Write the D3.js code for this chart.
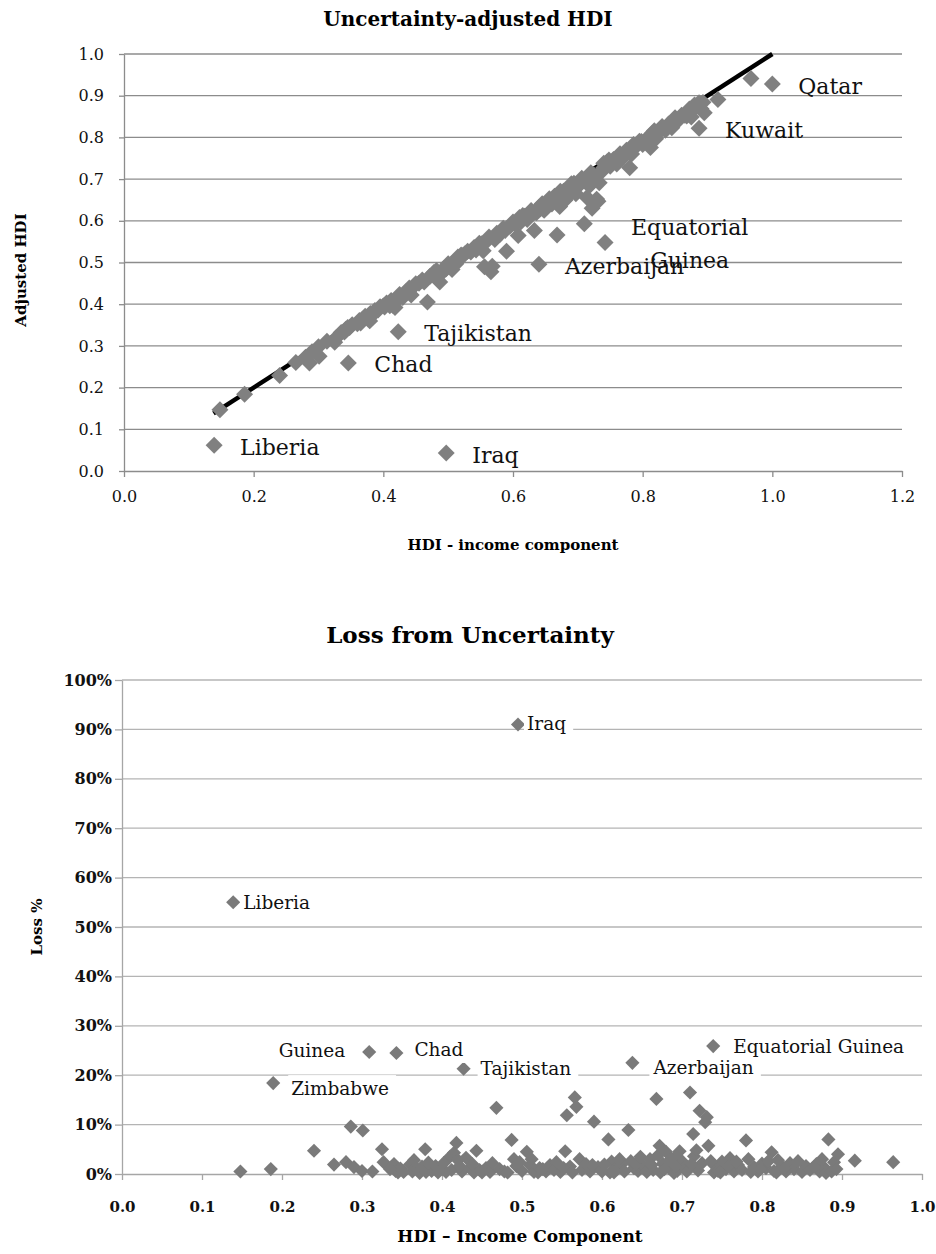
<!DOCTYPE html>
<html>
<head>
<meta charset="utf-8">
<script src="https://cdn.jsdelivr.net/npm/d3@7"></script>
<style>
  body { margin: 0; background: #fff; }
  svg { display: block; font-family: "DejaVu Serif", serif; }
</style>
</head>
<body>
<div id="chart"></div>
<script>
// ---- Upper panel: adjusted HDI vs income component ----
const topTitle = "Uncertainty-adjusted HDI";
const topXTitle = "HDI - income component";
const topYTitle = "Adjusted HDI";
const topXTicks = [0, 0.2, 0.4, 0.6, 0.8, 1.0, 1.2];
const topYTicks = [0, 0.1, 0.2, 0.3, 0.4, 0.5, 0.6, 0.7, 0.8, 0.9, 1.0];

const topIncome = [0.148, 0.186, 0.24, 0.265, 0.28, 0.286, 0.301, 0.29, 0.30, 0.313, 0.325, 0.327, 0.34, 0.342, 0.345,
	0.348, 0.36, 0.363, 0.368, 0.372, 0.379, 0.38, 0.387, 0.392, 0.40, 0.405, 0.41, 0.415, 0.418, 0.42, 0.425, 0.43,
	0.435, 0.44, 0.443, 0.447, 0.455, 0.46, 0.468, 0.472, 0.478, 0.487, 0.49, 0.493, 0.50, 0.506, 0.51, 0.515, 0.52,
	0.522, 0.53, 0.535, 0.54, 0.548, 0.554, 0.556, 0.56, 0.566, 0.568, 0.572, 0.575, 0.58, 0.585, 0.59, 0.595, 0.60,
	0.608, 0.61, 0.612, 0.618, 0.625, 0.628, 0.633, 0.636, 0.64, 0.645, 0.652, 0.66, 0.664, 0.668, 0.67, 0.672, 0.676,
	0.68, 0.684, 0.69, 0.69, 0.694, 0.70, 0.703, 0.71, 0.714, 0.715, 0.72, 0.722, 0.725, 0.729, 0.731, 0.733, 0.74,
	0.74, 0.745, 0.75, 0.755, 0.76, 0.765, 0.77, 0.775, 0.78, 0.783, 0.79, 0.795, 0.80, 0.805, 0.812, 0.815, 0.82,
	0.825, 0.83, 0.835, 0.84, 0.85, 0.855, 0.86, 0.868, 0.872, 0.878, 0.88, 0.887, 0.89, 0.895, 0.916, 0.967,
	0.335, 0.352, 0.365, 0.375, 0.383, 0.395, 0.402, 0.412, 0.422, 0.438, 0.45, 0.463, 0.482, 0.497, 0.512, 0.526,
	0.543, 0.552, 0.563, 0.588, 0.603, 0.615, 0.622, 0.642, 0.648, 0.656, 0.662, 0.673, 0.678, 0.686, 0.692, 0.697,
	0.706, 0.712, 0.718, 0.736, 0.748, 0.758, 0.768, 0.786, 0.798, 0.808, 0.818, 0.828, 0.845, 0.865, 0.875, 0.893];
const topAdjusted = [0.147, 0.184, 0.229, 0.26, 0.273, 0.259, 0.275, 0.286, 0.298, 0.311, 0.309, 0.319, 0.333, 0.34, 0.344,
	0.344, 0.353, 0.361, 0.364, 0.371, 0.36, 0.378, 0.385, 0.386, 0.396, 0.403, 0.396, 0.397, 0.392, 0.408, 0.423, 0.416,
	0.43, 0.439, 0.422, 0.443, 0.45, 0.458, 0.405, 0.467, 0.476, 0.453, 0.475, 0.485, 0.497, 0.483, 0.501, 0.513, 0.518,
	0.516, 0.527, 0.525, 0.536, 0.546, 0.528, 0.49, 0.552, 0.478, 0.491, 0.555, 0.57, 0.568, 0.582, 0.527, 0.587, 0.597,
	0.565, 0.608, 0.597, 0.611, 0.613, 0.625, 0.577, 0.619, 0.632, 0.641, 0.642, 0.64, 0.659, 0.566, 0.645, 0.634, 0.662,
	0.649, 0.676, 0.667, 0.689, 0.69, 0.682, 0.693, 0.593, 0.656, 0.689, 0.715, 0.63, 0.709, 0.652, 0.647, 0.691, 0.727,
	0.738, 0.741, 0.731, 0.747, 0.736, 0.761, 0.756, 0.769, 0.727, 0.76, 0.779, 0.791, 0.783, 0.795, 0.776, 0.81, 0.797,
	0.813, 0.826, 0.817, 0.832, 0.847, 0.841, 0.853, 0.851, 0.868, 0.867, 0.878, 0.883, 0.869, 0.859, 0.891, 0.941,
	0.332, 0.351, 0.355, 0.369, 0.374, 0.394, 0.393, 0.409, 0.415, 0.429, 0.449, 0.453, 0.481, 0.485, 0.497, 0.521,
	0.53, 0.545, 0.561, 0.577, 0.592, 0.613, 0.603, 0.629, 0.625, 0.653, 0.65, 0.671, 0.671, 0.665, 0.681, 0.665,
	0.702, 0.698, 0.684, 0.717, 0.746, 0.746, 0.749, 0.783, 0.79, 0.787, 0.816, 0.818, 0.823, 0.853, 0.849, 0.884];

const topLabelNames = ["Qatar", "Kuwait", "Equatorial\nGuinea", "Azerbaijan", "Tajikistan", "Chad", "Liberia", "Iraq"];
const topLabelIncome = [1.0, 0.887, 0.742, 0.64, 0.423, 0.346, 0.139, 0.497];
const topLabelAdjusted = [0.928, 0.822, 0.548, 0.496, 0.334, 0.259, 0.062, 0.043];

// trend line (y = x) end points
const trendIncome = [0.138, 1.0];
const trendAdjusted = [0.138, 1.0];

// ---- Lower panel: loss from uncertainty ----
const bottomTitle = "Loss from Uncertainty";
const bottomXTitle = "HDI \u2013 Income Component";
const bottomYTitle = "Loss %";
const bottomXTicks = [0, 0.1, 0.2, 0.3, 0.4, 0.5, 0.6, 0.7, 0.8, 0.9, 1.0];
const bottomYTicks = [0, 10, 20, 30, 40, 50, 60, 70, 80, 90, 100];

const bottomIncome = [0.148, 0.186, 0.24, 0.265, 0.28, 0.286, 0.301, 0.29, 0.30, 0.313, 0.325, 0.327, 0.34, 0.342, 0.345,
	0.348, 0.36, 0.363, 0.368, 0.372, 0.379, 0.38, 0.387, 0.392, 0.40, 0.405, 0.41, 0.415, 0.418, 0.42, 0.425, 0.43,
	0.435, 0.44, 0.443, 0.447, 0.455, 0.46, 0.468, 0.472, 0.478, 0.487, 0.49, 0.493, 0.50, 0.506, 0.51, 0.515, 0.52,
	0.522, 0.53, 0.535, 0.54, 0.548, 0.554, 0.556, 0.56, 0.566, 0.568, 0.572, 0.575, 0.58, 0.585, 0.59, 0.595, 0.60,
	0.608, 0.61, 0.612, 0.618, 0.625, 0.628, 0.633, 0.636, 0.64, 0.645, 0.652, 0.66, 0.664, 0.668, 0.67, 0.672, 0.676,
	0.68, 0.684, 0.69, 0.69, 0.694, 0.70, 0.703, 0.71, 0.714, 0.715, 0.72, 0.722, 0.725, 0.729, 0.731, 0.733, 0.74,
	0.74, 0.745, 0.75, 0.755, 0.76, 0.765, 0.77, 0.775, 0.78, 0.783, 0.79, 0.795, 0.80, 0.805, 0.812, 0.815, 0.82,
	0.825, 0.83, 0.835, 0.84, 0.85, 0.855, 0.86, 0.868, 0.872, 0.878, 0.88, 0.883, 0.887, 0.89, 0.895, 0.916, 0.964,
	0.335, 0.352, 0.365, 0.375, 0.383, 0.395, 0.402, 0.412, 0.422, 0.438, 0.45, 0.463, 0.482, 0.497, 0.512, 0.526,
	0.543, 0.552, 0.563, 0.588, 0.603, 0.615, 0.622, 0.642, 0.648, 0.656, 0.662, 0.673, 0.678, 0.686, 0.692, 0.697,
	0.706, 0.712, 0.718, 0.736, 0.748, 0.758, 0.768, 0.786, 0.798, 0.808, 0.818, 0.828, 0.845, 0.865, 0.875, 0.893];
const bottomLoss = [0.5, 1.0, 4.7, 1.9, 2.4, 9.6, 8.8, 1.4, 0.6, 0.5, 5.0, 2.4, 2.0, 0.6, 0.3,
	1.1, 1.9, 0.5, 1.2, 0.2, 5.0, 0.4, 0.6, 1.6, 1.0, 0.4, 3.5, 4.3, 6.3, 2.8, 0.5, 3.3,
	1.2, 0.3, 4.7, 0.8, 1.2, 0.4, 13.4, 1.0, 0.5, 6.9, 3.0, 1.6, 0.6, 4.5, 1.8, 0.4, 0.3,
	1.2, 0.5, 1.8, 0.8, 0.4, 4.6, 11.9, 1.5, 15.5, 13.6, 3.0, 0.8, 2.0, 0.5, 10.6, 1.4, 0.5,
	7.0, 0.3, 2.5, 1.1, 2.0, 0.5, 8.9, 2.6, 1.2, 0.6, 1.6, 3.0, 0.8, 15.2, 3.8, 5.7, 2.1,
	4.5, 1.2, 3.3, 0.2, 0.6, 2.6, 1.4, 16.5, 8.1, 3.6, 0.7, 12.8, 2.2, 10.5, 11.5, 5.7, 1.8,
	0.3, 0.6, 2.5, 1.0, 3.2, 0.5, 1.8, 0.8, 6.8, 3.0, 1.4, 0.5, 2.1, 1.2, 4.4, 0.6, 2.8,
	1.5, 0.5, 2.2, 1.0, 0.4, 1.6, 0.8, 2.0, 0.5, 1.3, 0.2, 7.0, 0.5, 2.4, 4.0, 2.7, 2.4,
	1.0, 0.4, 2.8, 1.5, 2.3, 0.3, 2.2, 0.8, 1.6, 2.0, 0.3, 2.2, 0.3, 2.4, 3.0, 1.0,
	2.4, 1.2, 0.3, 1.8, 1.9, 0.3, 3.0, 2.0, 3.5, 0.4, 1.8, 0.3, 1.0, 3.0, 1.6, 4.6,
	0.5, 2.0, 4.8, 2.6, 0.3, 1.6, 2.5, 0.4, 1.0, 2.6, 0.3, 1.2, 2.6, 1.4, 3.0, 1.0];

const bottomLabelNames = ["Iraq", "Liberia", "Guinea", "Chad", "Zimbabwe", "Tajikistan", "Azerbaijan", "Equatorial Guinea"];
const bottomLabelIncome = [0.495, 0.139, 0.309, 0.343, 0.189, 0.427, 0.638, 0.739];
const bottomLabelLoss = [91.0, 55.0, 24.7, 24.5, 18.4, 21.3, 22.5, 25.9];

class HdiCharts {

	constructor(selector) {
		this.width = 936;
		this.height = 1254;
		this.svg = d3.select(selector).append('svg')
			.attr('width', this.width)
			.attr('height', this.height);
		// where the data labels sit relative to their marker (moved by hand in the original)
		this.bottomLabelPos = {
			"Iraq": [9, 6, 'start'],
			"Liberia": [10, 7, 'start'],
			"Guinea": [-24, 5, 'end'],
			"Chad": [18, 3, 'start'],
			"Zimbabwe": [18, 12, 'start'],
			"Tajikistan": [17, 6, 'start'],
			"Azerbaijan": [21, 11, 'start'],
			"Equatorial Guinea": [20, 7, 'start']
		};
	}

	diamond(g, xs, ys, x, y, side, fill) {
		let sym = d3.symbol().type(d3.symbolSquare).size(side * side);
		g.selectAll(null)
			.data(xs.map((d, i) => [d, ys[i]]))
			.join('path')
				.attr('d', sym)
				.attr('transform', d => `translate(${x(d[0])},${y(d[1])}) rotate(45)`)
				.attr('fill', fill);
	}

	styleAxis(g, color, size, weight) {
		g.select('.domain').attr('stroke', color).attr('stroke-width', 1.3);
		g.selectAll('.tick line').attr('stroke', color).attr('stroke-width', 1.3);
		g.selectAll('.tick text')
			.attr('font-family', '"DejaVu Serif", serif')
			.attr('font-size', size)
			.attr('font-weight', weight)
			.attr('fill', '#111');
		g.attr('font-family', null);
	}

	drawTop() {
		let x = d3.scaleLinear().domain([0, 1.2]).range([124, 902]);
		let y = d3.scaleLinear().domain([0, 1]).range([471, 54]);
		let g = this.svg.append('g');

		g.append('text')
			.attr('x', 468).attr('y', 26)
			.attr('text-anchor', 'middle')
			.attr('font-size', 20).attr('font-weight', 'bold')
			.text(topTitle);

		g.selectAll(null)
			.data(topYTicks.filter(d => d > 0))
			.join('line')
				.attr('x1', x(0)).attr('x2', x(1.2))
				.attr('y1', d => y(d)).attr('y2', d => y(d))
				.attr('stroke', '#8c8c8c').attr('stroke-width', 1.3);

		let yAxis = g.append('g')
			.attr('transform', `translate(${x(0)},0)`)
			.call(d3.axisLeft(y).tickValues(topYTicks).tickFormat(d3.format('.1f')).tickSize(5).tickSizeOuter(0).tickPadding(15));
		this.styleAxis(yAxis, '#8c8c8c', 16, 'normal');

		let xAxis = g.append('g')
			.attr('transform', `translate(0,${y(0)})`)
			.call(d3.axisBottom(x).tickValues(topXTicks).tickFormat(d3.format('.1f')).tickSize(6).tickSizeOuter(0).tickPadding(14));
		this.styleAxis(xAxis, '#8c8c8c', 16, 'normal');

		g.append('text')
			.attr('x', 513).attr('y', 550)
			.attr('text-anchor', 'middle')
			.attr('font-size', 15).attr('font-weight', 'bold')
			.text(topXTitle);

		g.append('text')
			.attr('transform', 'translate(26,270) rotate(-90)')
			.attr('text-anchor', 'middle')
			.attr('font-size', 15).attr('font-weight', 'bold')
			.text(topYTitle);

		// trend line sits under the markers
		g.append('path')
			.datum(trendIncome.map((d, i) => [d, trendAdjusted[i]]))
			.attr('d', d3.line().x(d => x(d[0])).y(d => y(d[1])))
			.attr('stroke', '#000').attr('stroke-width', 4.5).attr('fill', 'none');

		this.diamond(g, topIncome, topAdjusted, x, y, 12, '#808080');
		this.diamond(g, topLabelIncome, topLabelAdjusted, x, y, 12, '#808080');

		topLabelNames.forEach((name, i) => {
			let px = x(topLabelIncome[i]);
			let py = y(topLabelAdjusted[i]);
			let lines = name.split('\n');
			let t = g.append('text')
				.attr('font-size', 22)
				.attr('fill', '#111');
			if (lines.length === 1) {
				t.attr('x', px + 26).attr('y', py + 9.5).text(name);
			} else {
				lines.forEach((l, k) => {
					t.append('tspan').attr('x', 0).attr('y', py - 7.5 + k * 33).text(l);
				});
				let w = d3.max(t.selectAll('tspan').nodes(), n => n.getComputedTextLength());
				t.attr('text-anchor', 'middle');
				t.selectAll('tspan').attr('x', px + 26 + w / 2);
			}
		});
	}

	drawBottom() {
		let self = this;
		let x = d3.scaleLinear().domain([0, 1]).range([122, 922]);
		let y = d3.scaleLinear().domain([0, 100]).range([1174, 680]);
		let g = this.svg.append('g');

		g.append('text')
			.attr('x', 470).attr('y', 643)
			.attr('text-anchor', 'middle')
			.attr('font-size', 23).attr('font-weight', 'bold')
			.text(bottomTitle);

		g.selectAll(null)
			.data(bottomYTicks.filter(d => d > 0))
			.join('line')
				.attr('x1', x(0)).attr('x2', x(1))
				.attr('y1', d => y(d)).attr('y2', d => y(d))
				.attr('stroke', '#b4b4b4').attr('stroke-width', 1.3);

		let yAxis = g.append('g')
			.attr('transform', `translate(${x(0)},0)`)
			.call(d3.axisLeft(y).tickValues(bottomYTicks).tickFormat(d => d + '%').tickSize(7).tickSizeOuter(0).tickPadding(3));
		this.styleAxis(yAxis, '#a6a6a6', 16, 'bold');

		let xAxis = g.append('g')
			.attr('transform', `translate(0,${y(0)})`)
			.call(d3.axisBottom(x).tickValues(bottomXTicks).tickFormat(d3.format('.1f')).tickSize(6).tickSizeOuter(0).tickPadding(21));
		this.styleAxis(xAxis, '#a6a6a6', 15, 'bold');

		g.append('text')
			.attr('x', 520).attr('y', 1242)
			.attr('text-anchor', 'middle')
			.attr('font-size', 17).attr('font-weight', 'bold')
			.text(bottomXTitle);

		g.append('text')
			.attr('transform', 'translate(42,927) rotate(-90)')
			.attr('text-anchor', 'middle')
			.attr('font-size', 15).attr('font-weight', 'bold')
			.text(bottomYTitle);

		this.diamond(g, bottomIncome, bottomLoss, x, y, 10, '#7a7a7a');
		this.diamond(g, bottomLabelIncome, bottomLabelLoss, x, y, 10, '#7a7a7a');

		bottomLabelNames.forEach((name, i) => {
			let pos = self.bottomLabelPos[name];
			let lab = g.append('g');
			let t = lab.append('text')
				.attr('x', x(bottomLabelIncome[i]) + pos[0])
				.attr('y', y(bottomLabelLoss[i]) + pos[1])
				.attr('text-anchor', pos[2])
				.attr('font-size', 18.5)
				.attr('fill', '#111')
				.text(name);
			let b = t.node().getBBox();
			lab.insert('rect', 'text')
				.attr('x', b.x - 3).attr('y', b.y - 3)
				.attr('width', b.width + 10).attr('height', b.height + 6)
				.attr('fill', '#fff');
		});
	}
}

let charts = new HdiCharts('#chart');
charts.drawTop();
charts.drawBottom();
</script>
</body>
</html>
